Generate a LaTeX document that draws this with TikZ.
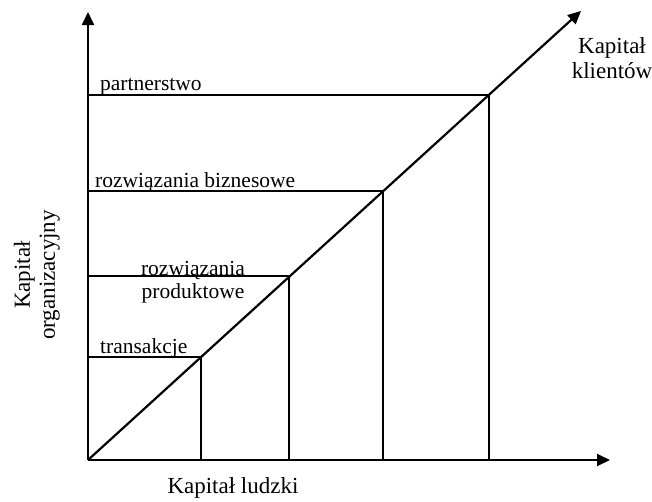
\documentclass[tikz,border=0pt]{standalone}
\usepackage{fontspec}
\setmainfont{Liberation Serif}
\usetikzlibrary{positioning,arrows.meta}
\tikzset{
  axis/.style={line width=1.8pt, -{Triangle[length=13pt, width=12pt]}},
  level/.style={line width=1.4pt},
  lbl/.style={inner sep=0pt, font=\fontsize{21.5}{23}\selectfont},
  axlbl/.style={inner sep=0pt, align=center, font=\fontsize{23}{25}\selectfont},
}
\begin{document}
\begin{tikzpicture}[x=1pt, y=-1pt]
  \useasboundingbox (0,0) rectangle (652,501);
  \coordinate (o) at (88,460);
  \coordinate (ytop) at (88,12);
  \coordinate (xend) at (610,460);
  \coordinate (dend) at (581,11);
  % levels on the diagonal
  \foreach \name/\x/\y in {t/201/357, p/289/276, b/383/191, r/489/95} {
    \coordinate (\name) at (\x,\y);
    \coordinate (\name y) at (88,\y);
    \coordinate (\name x) at (\x,460);
    \draw[level] (\name y) -- (\name) -- (\name x);
  }
  \draw[axis] (o) -- (ytop);
  \draw[axis] (o) -- (xend);
  \draw[axis, line width=2.2pt] (o) -- (dend);
  % labels
  \node[lbl, anchor=base west] (rlab) at (100,90) {partnerstwo};
  \node[lbl, anchor=base west] (blab) at (95,187) {rozwiązania biznesowe};
  \node[lbl, align=center, anchor=base] (plab) at (193,298) {rozwiązania\\produktowe};
  \node[lbl, anchor=base west] (tlab) at (100,353) {transakcje};
  \node[axlbl] (klab) at (612,58) {Kapitał\\klientów};
  \node[axlbl, rotate=90] (olab) at (37,275) {Kapitał\\organizacyjny};
  \node[axlbl] (llab) at (233,488) {Kapitał ludzki};
\end{tikzpicture}
\end{document}
